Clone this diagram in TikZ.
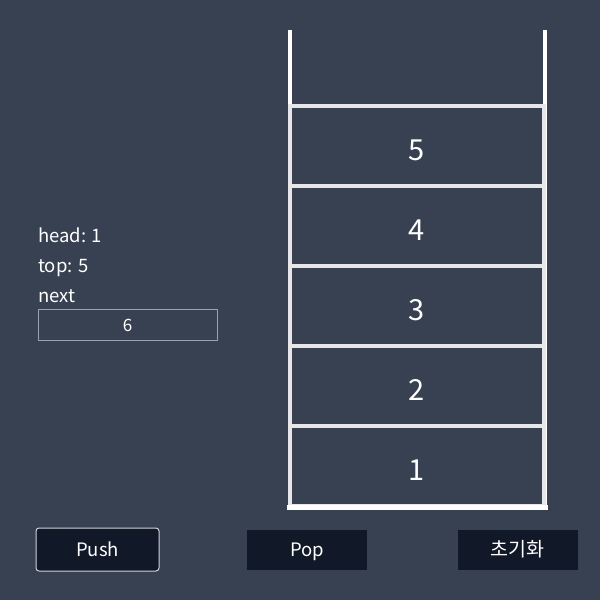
\documentclass[tikz,border=0pt]{standalone}
\usepackage{fontspec}
\setmainfont{Noto Sans CJK KR}
\usepackage{tikz}
\definecolor{bgslate}{HTML}{374151}
\definecolor{cellline}{HTML}{E5E7EB}
\definecolor{btnfill}{HTML}{111827}
\definecolor{fieldline}{HTML}{9CA3AF}
\definecolor{btnline}{HTML}{D1D5DB}
\tikzset{
	cell/.style={draw=cellline, line width=4pt, minimum width=254pt, minimum height=80pt, outer sep=0pt, text=white, text height=28pt, text depth=0pt, font=\fontsize{29}{31}\selectfont},
	info/.style={anchor=base west, inner sep=0pt, text=white, font=\fontsize{18.5}{20}\selectfont},
	btn/.style={fill=btnfill, minimum width=120pt, minimum height=40pt, inner sep=0pt, text=white, text height=17.5pt, text depth=4pt, font=\fontsize{18.5}{20}\selectfont},
}
\begin{document}
\begin{tikzpicture}[x=1pt, y=-1pt]
	\def \cx{417} % centre of stack
	\def \ch{80} % cell height
	\def \bot{506} % floor of stack
	\fill[bgslate] (0, 0) rectangle (600, 600);
	\useasboundingbox (0, 0) rectangle (600, 600);
	% container
	\coordinate (tl) at (289.5, 30);
	\coordinate (bl) at (289.5, 507);
	\coordinate (br) at (544.5, 507);
	\coordinate (tr) at (544.5, 30);
	\draw[white, line width=4pt] (tl) -- (bl);
	\draw[white, line width=4pt] (tr) -- (br);
	%cells
	\node[cell] (c1) at (\cx, {\bot - 0.5*\ch}) {1};
	\node[cell] (c2) at (\cx, {\bot - 1.5*\ch}) {2};
	\node[cell] (c3) at (\cx, {\bot - 2.5*\ch}) {3};
	\node[cell] (c4) at (\cx, {\bot - 3.5*\ch}) {4};
	\node[cell] (c5) at (\cx, {\bot - 4.5*\ch}) {5};
	\draw[white, line width=5pt] ([xshift=-3pt]bl) -- ([xshift=3pt]br);
	% pointers
	\node[info] (head) at (38, 242) {head: 1};
	\node[info] (top) at (38, 272) {top: 5};
	\node[info] (next) at (38, 302) {next};
	\node[draw=fieldline, line width=1pt, minimum width=179pt, minimum height=31pt, inner sep=0pt, text=white, text height=13pt, text depth=0pt, font=\fontsize{17}{19}\selectfont] (nextval) at (127.5, 324.5) {6};
	% buttons
	\node[btn, draw=btnline, line width=1pt, rounded corners=3pt, minimum width=123pt, minimum height=43pt] (push) at (97.5, 549.5) {Push};
	\node[btn] (pop) at (307, 549.5) {Pop};
	\node[btn, font=\fontsize{19.5}{21}\selectfont] (reset) at (517.5, 549.5) {초기화};
\end{tikzpicture}
\end{document}
